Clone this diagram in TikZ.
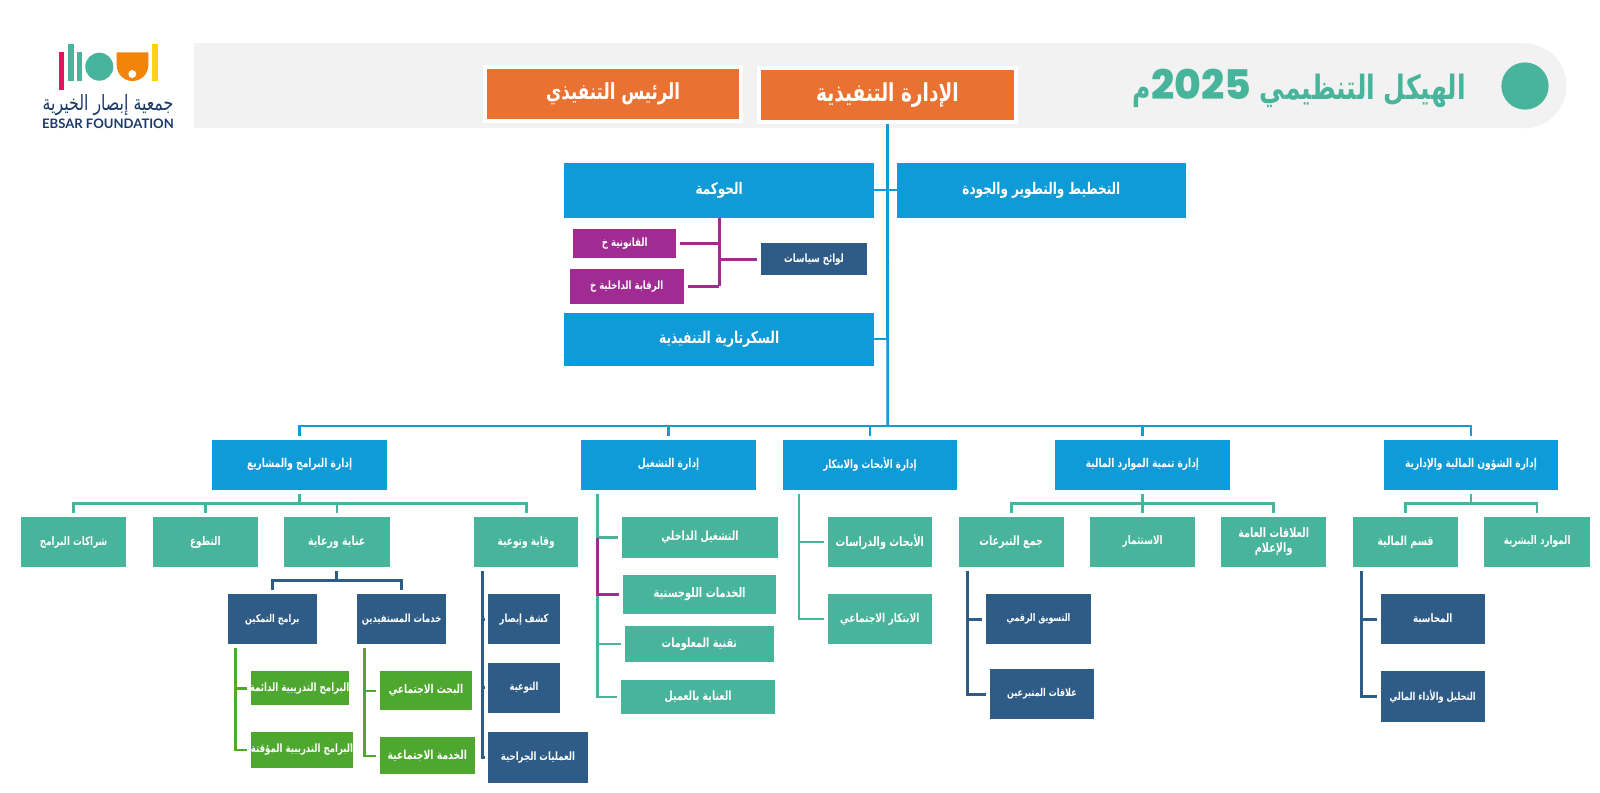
\documentclass[tikz,border=0pt]{standalone}
\usepackage{fontspec}
\setmainfont{Lato}
\newfontfamily\arabicfont[Script=Arabic,FakeStretch=0.75]{DejaVu Sans}
\newfontfamily\digitfont[BoldFont={Poppins ExtraBold}]{Poppins}
\TeXXeTstate=1
\newcommand{\ar}[1]{{\arabicfont\beginR #1\endR}}
\definecolor{headgray}{HTML}{F2F2F2}
\definecolor{orgorange}{HTML}{E97132}
\definecolor{orgblue}{HTML}{0F9BD7}
\definecolor{orgteal}{HTML}{47B49B}
\definecolor{orgnavy}{HTML}{2E5C87}
\definecolor{orggreen}{HTML}{4EA72E}
\definecolor{orgpurple}{HTML}{A02B93}
\definecolor{logonavy}{HTML}{1B3A6B}
\definecolor{logopink}{HTML}{E2135F}
\definecolor{logoorange}{HTML}{F2840C}
\definecolor{logoyellow}{HTML}{FFD20F}
\tikzset{
  w/.style={minimum width=#1*0.025cm},
  h/.style={minimum height=#1*0.025cm},
  fs/.style={font=\bfseries\fontsize{#1}{11}\selectfont},
  box/.style={rectangle, inner sep=0pt, outer sep=0pt, text=white, align=center},
  bigbox/.style={box, fill=orgorange, draw=white, line width=0.09cm},
  bluebox/.style={box, fill=orgblue},
  tealbox/.style={box, fill=orgteal},
  navybox/.style={box, fill=orgnavy},
  greenbox/.style={box, fill=orggreen},
  purplebox/.style={box, fill=orgpurple},
  blueline/.style={draw=orgblue, line width=0.07cm},
  thinline/.style={draw=orgblue, line width=0.045cm},
  tealline/.style={draw=orgteal, line width=0.065cm, shorten <=0.1cm, shorten >=0.1cm},
  navyline/.style={draw=orgnavy, line width=0.07cm, shorten <=0.1cm, shorten >=0.1cm},
  greenline/.style={draw=orggreen, line width=0.065cm, shorten >=0.1cm},
  purpleline/.style={draw=orgpurple, line width=0.075cm},
}
\begin{document}
\begin{tikzpicture}[x=0.025cm,y=-0.025cm]
\useasboundingbox (0,0) rectangle (1600,792);

% header band
\fill[headgray] (194,43.3) rectangle (1524,128.3);
\fill[headgray] (1524,85.8) circle (1.0625cm);
\fill[orgteal] (1525,86) circle (0.59cm);
\node[anchor=east, inner sep=0pt, text=orgteal, fs=23.8] (title) at (1466,88)
  {\ar{الهيكل التنظيمي \beginL{\digitfont\fontsize{29}{30}\selectfont 2025}\endL م}};

% logo
\fill[logopink] (58.7,52.3) rectangle (64,90);
\fill[orgteal] (68,43.7) rectangle (74,81);
\fill[orgteal] (76.7,52.3) rectangle (82.3,81);
\fill[orgteal] (99.3,66.7) circle (0.35cm);
\fill[logoorange] (116.7,52.3) -- (148.3,52.3) -- (148.3,65.2) arc[start angle=0, end angle=-180, radius=0.395cm] -- cycle;
\fill[white] (132.3,74) circle (0.1cm);
\fill[logoyellow] (152.3,43.7) rectangle (158,81);
\node[inner sep=0pt, text=logonavy, font=\fontsize{15}{16}\selectfont] (logoar) at (108,105) {\ar{جمعية إبصار الخيرية}};
\node[inner sep=0pt, text=logonavy, fs=9.3] (logoen) at (108,124) {EBSAR FOUNDATION};

% top boxes
\node[bigbox, w=256, h=53.5, fs=15.8] (ceo) at (613.2,94) {\ar{الرئيس التنفيذي}};
\node[bigbox, w=256.5, h=54, fs=17.6] (exec) at (887.5,95) {\ar{الإدارة التنفيذية}};

\node[bluebox, w=310.3, h=55, fs=11.4] (hawkama) at (719.2,190.2) {\ar{الحوكمة}};
\node[bluebox, w=289.3, h=55, fs=11.4] (planning) at (1041.4,190.2) {\ar{التخطيط والتطوير والجودة}};
\node[purplebox, w=102.7, h=28.7, fs=8.2] (legal) at (624.7,243.3) {\ar{القانونية خ}};
\node[purplebox, w=114, h=34.7, fs=8.1] (internal) at (626.7,286.3) {\ar{الرقابة الداخلية خ}};
\node[navybox, w=106.6, h=31.7, fs=8.2] (policies) at (814,259.2) {\ar{لوائح سياسات}};
\node[bluebox, w=310.3, h=53, fs=11.6] (secretariat) at (719.2,339.2) {\ar{السكرتارية التنفيذية}};

% departments
\node[bluebox, w=174.5, h=50.3, fs=8.65] (programs) at (299.65,464.85) {\ar{إدارة البرامج والمشاريع}};
\node[bluebox, w=174.7, h=50.3, fs=8.65] (operations) at (668.65,464.85) {\ar{إدارة التشغيل}};
\node[bluebox, w=174.6, h=50.3, fs=8.3] (research) at (870,464.85) {\ar{إدارة الأبحاث والابتكار}};
\node[bluebox, w=174.6, h=50.3, fs=8.6] (funddev) at (1142.5,464.85) {\ar{إدارة تنمية الموارد المالية}};
\node[bluebox, w=174, h=50.3, fs=8.6] (finadmin) at (1471,464.85) {\ar{إدارة الشؤون المالية والإدارية}};

% programs branch
\node[tealbox, w=105.3, h=50.5, fs=8.3] (partner) at (73.65,542) {\ar{شراكات البرامج}};
\node[tealbox, w=105.3, h=50.5, fs=8.5] (volunteer) at (205.35,542) {\ar{التطوع}};
\node[tealbox, w=105.6, h=50.5, fs=9] (care) at (336.8,542) {\ar{عناية ورعاية}};
\node[tealbox, w=104.1, h=50.5, fs=8.6] (prevent) at (526.25,542) {\ar{وقاية وتوعية}};
\node[navybox, w=89.2, h=50, fs=7.65] (empower) at (272.3,619.3) {\ar{برامج التمكين}};
\node[navybox, w=89.2, h=50, fs=8] (benef) at (401.6,619.3) {\ar{خدمات المستفيدين}};
\node[greenbox, w=97.9, h=34, fs=8.2] (permanent) at (299.65,688.3) {\makebox[0pt]{\ar{البرامج التدريبية الدائمة}}};
\node[greenbox, w=102.5, h=35.4, fs=8.15] (temporary) at (302,750) {\makebox[0pt]{\ar{البرامج التدريبية المؤقتة}}};
\node[greenbox, w=91.9, h=39, fs=8.6] (socresearch) at (426,690.8) {\ar{البحث الاجتماعي}};
\node[greenbox, w=94.6, h=37, fs=8.8] (socservice) at (427.3,755.8) {\ar{الخدمة  الاجتماعية}};
\node[navybox, w=71.6, h=50, fs=8] (eyecheck) at (524.1,619.3) {\ar{كشف إبصار}};
\node[navybox, w=71.6, h=50.3, fs=7.9] (awareness) at (524.1,687.85) {\ar{التوعية}};
\node[navybox, w=99.5, h=50.4, fs=8.15] (surgery) at (538,757.5) {\ar{العمليات الجراحية}};

% operations branch
\node[tealbox, w=156, h=41, fs=9] (intops) at (700,537.2) {\ar{التشغيل الداخلي}};
\node[tealbox, w=152.7, h=39, fs=9.4] (logistics) at (699.65,594.2) {\ar{الخدمات اللوجستية}};
\node[tealbox, w=148.7, h=36.6, fs=9.1] (infotech) at (699.35,644) {\ar{تقنية المعلومات}};
\node[tealbox, w=153.7, h=34, fs=9] (customer) at (698.15,697) {\ar{العناية بالعميل}};

% research branch
\node[tealbox, w=104.3, h=50.3, fs=9.2] (studies) at (879.85,541.85) {\ar{الأبحاث والدراسات}};
\node[tealbox, w=104.3, h=49.7, fs=8.65] (innovation) at (879.85,619.15) {\ar{الابتكار الاجتماعي}};

% fund development branch
\node[tealbox, w=104.5, h=50.3, fs=9.1] (fundraising) at (1011.25,541.85) {\ar{جمع التبرعات}};
\node[tealbox, w=104.6, h=50.3, fs=8.4] (invest) at (1142.7,541.85) {\ar{الاستثمار}};
\node[tealbox, w=105.4, h=50.3, fs=9.2] (media) at (1273.7,541.85) {\ar{العلاقات العامة}\\\ar{والإعلام}};
\node[navybox, w=105, h=49.7, fs=7.5] (digital) at (1038.5,619.15) {\ar{التسويق الرقمي}};
\node[navybox, w=104.5, h=49.7, fs=7.65] (donors) at (1041.95,694.15) {\ar{علاقات المتبرعين}};

% finance branch
\node[tealbox, w=105, h=50.3, fs=8.9] (finance) at (1405.5,541.85) {\ar{قسم المالية}};
\node[tealbox, w=105.7, h=50.3, fs=8.4] (hr) at (1537.15,541.85) {\ar{الموارد البشرية}};
\node[navybox, w=104, h=49.7, fs=8.3] (accounting) at (1432.7,619.15) {\ar{المحاسبة}};
\node[navybox, w=104, h=50.3, fs=7.8] (analysis) at (1432.7,696.5) {\ar{التحليل والأداء المالي}};

% main spine and bus
\coordinate (mainbus) at (887.7,426);
\draw[blueline, shorten <=0.05cm] (exec.south) -- (mainbus);
\draw[thinline] (hawkama.east) -- (planning.west);
\draw[thinline] (secretariat.east) -- (secretariat.east -| mainbus);
\draw[blueline, shorten <=0.1cm, shorten >=0.1cm] (programs.north) |- (mainbus) -| (finadmin.north);
\foreach \dept in {operations,research,funddev} \draw[blueline, shorten <=0.1cm] (\dept.north) -- (\dept.north |- mainbus);

% governance
\draw[purpleline] (hawkama.south) -- (hawkama.south |- internal.east);
\draw[purpleline, shorten <=0.1cm] (internal.east) -- (internal.east -| hawkama.south);
\draw[purpleline, shorten <=0.1cm] (legal.east) -- (legal.east -| hawkama.south);
\draw[purpleline, shorten <=0.1cm] (policies.west) -- (policies.west -| hawkama.south);

% top-down branches
\foreach \sub in {partner,volunteer,care,prevent} \draw[tealline] (programs.south) -- ++(0,13.3) -| (\sub.north);
\foreach \sub in {fundraising,invest,media} \draw[tealline] (funddev.south) -- ++(0,13.3) -| (\sub.north);
\foreach \sub in {finance,hr} \draw[tealline] (finadmin.south) -- ++(0,13.3) -| (\sub.north);
\foreach \sub in {empower,benef} \draw[navyline] (care.south) -- ++(0,13) -| (\sub.north);

% side branches
\coordinate (opsstem) at (597.3,494);
\coordinate (opsjoin) at (597.3,538.3);
\coordinate (resstem) at (799,494);
\coordinate (fundstem) at (967.7,571);
\coordinate (finstem) at (1361.6,571);
\coordinate (prevstem) at (482.6,571.3);
\coordinate (empstem) at (235.4,648);
\coordinate (benstem) at (364.7,648);
\foreach \sub in {intops,logistics,infotech,customer} \draw[tealline, shorten <=0pt] (opsstem) |- (\sub.west);
\draw[purpleline, shorten >=0.1cm] (opsjoin) |- (logistics.west);
\foreach \sub in {studies,innovation} \draw[tealline, shorten <=0pt] (resstem) |- (\sub.west);
\foreach \sub in {digital,donors} \draw[navyline, shorten <=0pt] (fundstem) |- (\sub.west);
\foreach \sub in {accounting,analysis} \draw[navyline, shorten <=0pt] (finstem) |- (\sub.west);
\foreach \sub in {eyecheck,awareness,surgery} \draw[navyline, shorten <=0pt, shorten >=0.0875cm] (prevstem) |- (\sub.west);
\foreach \sub in {permanent,temporary} \draw[greenline] (empstem) |- (\sub.west);
\foreach \sub in {socresearch,socservice} \draw[greenline] (benstem) |- (\sub.west);

\end{tikzpicture}
\end{document}
